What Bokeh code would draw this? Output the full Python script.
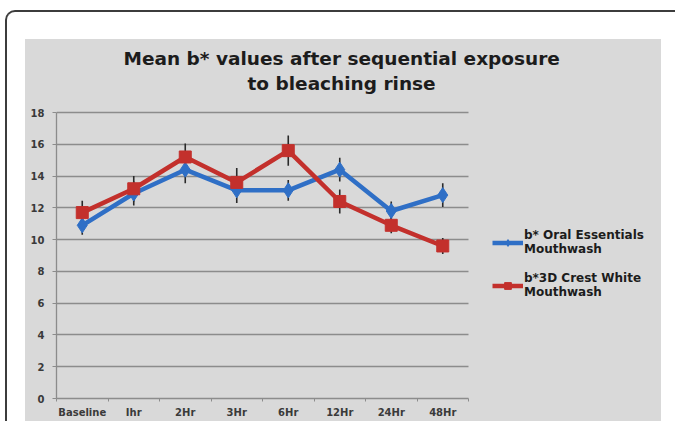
from bokeh.plotting import figure
from bokeh.layouts import column, row
from bokeh.models import Range1d, FixedTicker, Legend, LegendItem, Title, Spacer, Grid
from bokeh.embed import file_html
from bokeh.resources import INLINE

# ---- data ----
categories = ["Baseline", "Ihr", "2Hr", "3Hr", "6Hr", "12Hr", "24Hr", "48Hr"]
oral_values = [10.9, 12.9, 14.4, 13.1, 13.1, 14.4, 11.8, 12.8]
oral_errors = [0.6, 0.75, 0.85, 0.8, 0.65, 0.75, 0.6, 0.75]
crest_values = [11.7, 13.2, 15.2, 13.6, 15.6, 12.4, 10.9, 9.6]
crest_errors = [0.75, 0.8, 0.85, 0.9, 0.95, 0.75, 0.5, 0.5]
y_ticks = [0, 2, 4, 6, 8, 10, 12, 14, 16, 18]
title_lines = ["Mean b* values after sequential exposure", "to bleaching rinse"]
series_names = ["b* Oral Essentials\nMouthwash", "b*3D Crest White\nMouthwash"]

# ---- styles ----
FONT = "DejaVu Sans"
BLUE = "#2f6fc6"
RED = "#c3302c"
PANEL = "#d9d9d9"
GRID = "#8c8c8c"
W, H = 636, 382                    # gray chart panel
FL, FR, FT, FB = 31, 443, 73, 359  # plot area (0..n, 0..18) inside the panel
FRAME_TOP = 54                     # frame reaches a bit above the 18 line

n = len(categories)
y_max = y_ticks[-1]
xs = [i + 0.5 for i in range(n)]
x_end = n * (W - FL) / (FR - FL)
y_end = y_max * (FB - FRAME_TOP) / (FB - FT)

p = figure(width=W, height=H, x_range=Range1d(0, x_end), y_range=Range1d(0, y_end),
           output_backend="svg", toolbar_location=None,
           min_border_left=FL, min_border_right=0, min_border_top=FRAME_TOP, min_border_bottom=H - FB,
           styles={"background-color": PANEL})
p.border_fill_color = PANEL
p.background_fill_color = PANEL
p.outline_line_color = None

# grid (horizontal lines only over the category span)
p.xgrid.visible = False
p.ygrid.ticker = FixedTicker(ticks=y_ticks)
p.ygrid.grid_line_color = GRID
p.ygrid.grid_line_width = 1.3
if "cross_bounds" in Grid.properties():
    p.ygrid.cross_bounds = (0, n)
else:
    p.ygrid.visible = False
    p.segment(x0=[0] * len(y_ticks), y0=y_ticks, x1=[n] * len(y_ticks), y1=y_ticks,
              line_color=GRID, line_width=1.3, level="underlay")

# y axis
p.yaxis.ticker = FixedTicker(ticks=y_ticks, minor_ticks=[])
p.yaxis.bounds = (0, y_max)
p.yaxis.axis_line_color = GRID
p.yaxis.axis_line_width = 1.3
p.yaxis.major_tick_line_color = GRID
p.yaxis.major_tick_out = 4
p.yaxis.major_tick_in = 0
p.yaxis.minor_tick_line_color = None
p.yaxis.major_label_standoff = 8
p.yaxis.major_label_text_font = FONT
p.yaxis.major_label_text_font_style = "bold"
p.yaxis.major_label_text_font_size = "10px"
p.yaxis.major_label_text_color = "#3a3a3a"

# x axis
p.xaxis.ticker = FixedTicker(ticks=xs, minor_ticks=list(range(n + 1)))
p.xaxis.bounds = (0, n)
p.xaxis.major_label_overrides = {x: c for x, c in zip(xs, categories)}
p.xaxis.axis_line_color = GRID
p.xaxis.axis_line_width = 1.3
p.xaxis.major_tick_line_color = None
p.xaxis.major_tick_out = 0
p.xaxis.major_tick_in = 0
p.xaxis.minor_tick_line_color = GRID
p.xaxis.minor_tick_out = 3
p.xaxis.minor_tick_in = 0
p.xaxis.major_label_standoff = 5
p.xaxis.major_label_text_font = FONT
p.xaxis.major_label_text_font_style = "bold"
p.xaxis.major_label_text_font_size = "10px"
p.xaxis.major_label_text_color = "#3a3a3a"

# error bars
p.segment(x0=xs, y0=[v - e for v, e in zip(oral_values, oral_errors)],
          x1=xs, y1=[v + e for v, e in zip(oral_values, oral_errors)],
          line_color="#2a2a2a", line_width=1.6)
p.segment(x0=xs, y0=[v - e for v, e in zip(crest_values, crest_errors)],
          x1=xs, y1=[v + e for v, e in zip(crest_values, crest_errors)],
          line_color="#2a2a2a", line_width=1.6)

# series
bl = p.line(xs, oral_values, line_color=BLUE, line_width=4.5)
bs = p.scatter(xs, oral_values, marker="diamond", size=15, fill_color=BLUE, line_color=BLUE)
rl = p.line(xs, crest_values, line_color=RED, line_width=4.5)
rs = p.scatter(xs, crest_values, marker="square", size=12, fill_color=RED, line_color=RED)

# title: two lines, the later added sits further from the frame
p.title = None
for line, off, so in zip(reversed(title_lines), [191, 67], [0, 3]):
    p.add_layout(Title(text=line, align="left", offset=off, standoff=so,
                       text_font=FONT, text_font_style="bold", text_font_size="18.5px",
                       text_color="#1c1c1c"), "above")

# legend
legend = Legend(items=[LegendItem(label=series_names[0], renderers=[bl, bs]),
                       LegendItem(label=series_names[1], renderers=[rl, rs])],
                location=(436, 99), orientation="vertical",
                glyph_width=31, glyph_height=17, label_standoff=1, spacing=15,
                padding=0, margin=0, border_line_color=None, background_fill_alpha=0,
                label_text_font=FONT, label_text_font_style="bold", label_text_font_size="12px",
                label_text_color="#1c1c1c", label_text_line_height=1.4)
p.add_layout(legend)

root = column(
    Spacer(width=18 + W + 14, height=27),
    row(Spacer(width=18, height=H), p, Spacer(width=14, height=H)),
    styles={"position": "absolute", "left": "5px", "top": "10px",
            "border-top": "2px solid #3c3c3c", "border-left": "2px solid #3c3c3c",
            "border-top-left-radius": "10px", "background-color": "white"},
)

open("out.html", "w").write(file_html(root, INLINE))
